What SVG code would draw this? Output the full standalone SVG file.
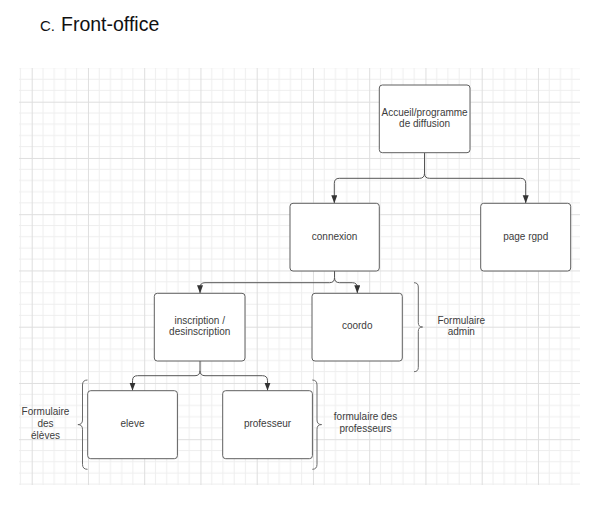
<svg xmlns="http://www.w3.org/2000/svg" width="613" height="515" viewBox="0 0 613 515">
<style>
.box{fill:#ffffff;stroke:#5f5f5f;stroke-width:1}
.lbl{font-family:"Liberation Sans",Arial,sans-serif;font-size:10px;fill:#3c3c3c;text-anchor:middle}
.con{fill:none;stroke:#555555;stroke-width:1}
.brace{fill:none;stroke:#6a6a6a;stroke-width:1}
.title{font-family:"Liberation Sans",Arial,sans-serif;fill:#111111}
</style>
<defs>
<pattern id="grid" patternUnits="userSpaceOnUse" x="31.7" y="45.45" width="56.25" height="56.25">
<path d="M11.25,0V56.25M22.5,0V56.25M33.75,0V56.25M45,0V56.25M0,11.25H56.25M0,22.5H56.25M0,33.75H56.25M0,45H56.25" stroke="#eeeeee" stroke-width="1" fill="none"/>
<path d="M0.5,0V56.25M0,0.5H56.25" stroke="#dedede" stroke-width="1" fill="none"/>
</pattern>
<marker id="arr" markerUnits="userSpaceOnUse" markerWidth="10" markerHeight="8" refX="8" refY="3" orient="auto">
<path d="M0,0L8,3L0,6z" fill="#333333"/>
</marker>
</defs>
<rect width="613" height="515" fill="#ffffff"/>
<rect x="19" y="68" width="561" height="417" fill="url(#grid)"/>
<g id="title">
<text class="title" x="40" y="30.7" font-size="15">C.</text>
<text class="title" x="61" y="30.7" font-size="19.5">Front-office</text>
</g>
<g id="connectors">
<path class="con" marker-end="url(#arr)" d="M424.5,152.7V173.3Q424.5,178.3 419.5,178.3H339.3Q334.3,178.3 334.3,183.3V203.3"/>
<path class="con" marker-end="url(#arr)" d="M424.5,173.3Q424.5,178.3 429.5,178.3H520.7Q525.7,178.3 525.7,183.3V203.3"/>
<path class="con" marker-end="url(#arr)" d="M334.5,271V277.7Q334.5,282.7 329.5,282.7H205Q200,282.7 200,287.7V293.3"/>
<path class="con" marker-end="url(#arr)" d="M334.5,277.7Q334.5,282.7 339.5,282.7H352.3Q357.3,282.7 357.3,287.7V293.3"/>
<path class="con" marker-end="url(#arr)" d="M200,361V370.7Q200,375.7 195,375.7H137.5Q132.5,375.7 132.5,380.7V390.7"/>
<path class="con" marker-end="url(#arr)" d="M200,370.7Q200,375.7 205,375.7H262.5Q267.5,375.7 267.5,380.7V390.7"/>
</g>
<g id="accueil">
<rect class="box" x="379.3" y="85" width="90.7" height="67.7" rx="3"/>
<text class="lbl" x="424.6" y="115.8">Accueil/programme</text>
<text class="lbl" x="424.6" y="127">de diffusion</text>
</g>
<g id="connexion">
<rect class="box" x="290" y="203.3" width="89.3" height="67.7" rx="3"/>
<text class="lbl" x="334.6" y="239.5">connexion</text>
</g>
<g id="page-rgpd">
<rect class="box" x="480.7" y="203.3" width="90" height="67.7" rx="3"/>
<text class="lbl" x="525.7" y="239.5">page rgpd</text>
</g>
<g id="inscription">
<rect class="box" x="154.3" y="293.3" width="90.7" height="67.7" rx="3"/>
<text class="lbl" x="199.7" y="323.5">inscription /</text>
<text class="lbl" x="199.7" y="335.2">desinscription</text>
</g>
<g id="coordo">
<rect class="box" x="312" y="293.3" width="90.3" height="67.7" rx="3"/>
<text class="lbl" x="357.2" y="329.2">coordo</text>
</g>
<g id="admin-brace">
<path class="brace" d="M414,282.7q4.3,0 4.3,4.3V322.7q0,4.3 4.3,4.3q-4.3,0 -4.3,4.3V367.4q0,4.3 -4.3,4.3"/>
<text class="lbl" x="461.3" y="323.5">Formulaire</text>
<text class="lbl" x="461.3" y="335.2">admin</text>
</g>
<g id="eleve">
<rect class="box" x="87.7" y="390.7" width="89.7" height="68" rx="3"/>
<text class="lbl" x="132.5" y="426.8">eleve</text>
</g>
<g id="professeur">
<rect class="box" x="222.7" y="390.7" width="89.7" height="68" rx="3"/>
<text class="lbl" x="267.5" y="426.8">professeur</text>
</g>
<g id="eleves-brace">
<path class="brace" d="M87.5,380q-5,0 -5,5V420q0,4.6 -4.6,4.6q4.6,0 4.6,4.6V464.3q0,5 5,5"/>
<text class="lbl" x="45.5" y="415.2">Formulaire</text>
<text class="lbl" x="45.5" y="426.8">des</text>
<text class="lbl" x="45.5" y="438.5">élèves</text>
</g>
<g id="professeurs-brace">
<path class="brace" d="M312.3,380q4.7,0 4.7,5V420q0,4.6 4.6,4.6q-4.6,0 -4.6,4.6V464.3q0,5 -4.7,5"/>
<text class="lbl" x="365.5" y="420.3">formulaire des</text>
<text class="lbl" x="365.5" y="432.3">professeurs</text>
</g>
</svg>
